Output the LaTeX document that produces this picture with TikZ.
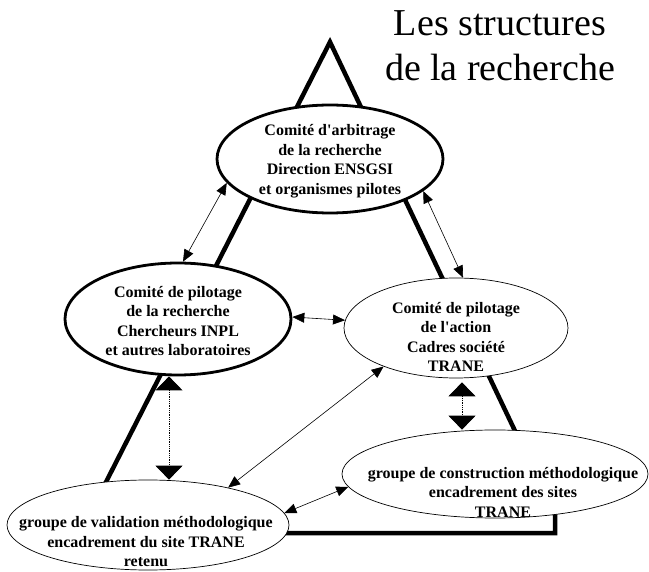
\documentclass[tikz,border=0pt]{standalone}
\usepackage{fontspec}
\setmainfont{Liberation Serif}[Ligatures=TeXOff]
\usetikzlibrary{shapes.geometric,arrows.meta,calc}
\begin{document}
\begin{tikzpicture}[x=1pt,y=-1pt,
  ell/.style={ellipse,draw,fill=white,inner sep=0pt},
  thickell/.style={ell,line width=2.8pt},
  thinell/.style={ell,line width=0.7pt},
  lbl/.style={align=center,font=\fontsize{16}{19.5}\selectfont\bfseries,inner sep=0pt},
  frame/.style={line width=4.5pt,line join=miter},
  link/.style={line width=0.6pt,{Triangle[length=12pt,width=10pt]}-{Triangle[length=12pt,width=10pt]}},
  biglink/.style={line width=0.8pt,densely dotted,{Triangle[length=14pt,width=27pt]}-{Triangle[length=14pt,width=27pt]}}
]
\useasboundingbox (0,0) rectangle (649,572);
% big frame triangle
\coordinate (apex) at (330,42);
\coordinate (bl) at (105,484);
\coordinate (br) at (555,515);
\coordinate (brb) at (555,533);
\coordinate (bb) at (250,533);
\draw[frame] (bl) -- (apex) -- (br) -- (brb) -- (bb);
% title
\node[align=center,anchor=north,inner sep=0pt,font=\fontsize{38}{45}\selectfont] (title) at (500,10) {Les structures\\de la recherche};
% ellipses
\node[thickell,minimum width=226pt,minimum height=108pt] (arb) at (330,159) {};
\node[thickell,minimum width=226pt,minimum height=112pt] (rech) at (178,319) {};
\node[thinell,minimum width=224pt,minimum height=100pt] (act) at (456,328) {};
\node[thinell,minimum width=306pt,minimum height=88pt] (cons) at (495,474) {};
\node[thinell,minimum width=282pt,minimum height=90pt] (val) at (148,525) {};
% texts
\node[lbl] (arbt) at (330,161) {Comité d'arbitrage\\de la recherche\\Direction ENSGSI\\et organismes pilotes};
\node[lbl] (recht) at (178,321) {Comité de pilotage\\de la recherche\\Chercheurs INPL\\et autres laboratoires};
\node[lbl] (actt) at (456,337) {Comité de pilotage\\de l'action\\Cadres société\\TRANE};
\node[lbl] (const) at (503,492) {groupe de construction méthodologique\\encadrement des sites\\TRANE};
\node[lbl] (valt) at (146,542) {groupe de validation méthodologique\\encadrement du site TRANE\\retenu};
% links
\draw[link] (arb.193) -- (rech.85);
\draw[link] (arb.341) -- (act.82);
\draw[link] (rech.1) -- (act.176);
\draw[link] (act.208) -- (val.25);
\draw[link] (val.5) -- (cons.185);
\coordinate (v1) at ([xshift=-9pt]rech.south);
\draw[biglink] (v1) -- (v1 |- val.north);
\coordinate (v2) at ([xshift=6pt,yshift=-4pt]act.south);
\draw[biglink] (v2) -- (v2 |- cons.north);
\end{tikzpicture}
\end{document}
